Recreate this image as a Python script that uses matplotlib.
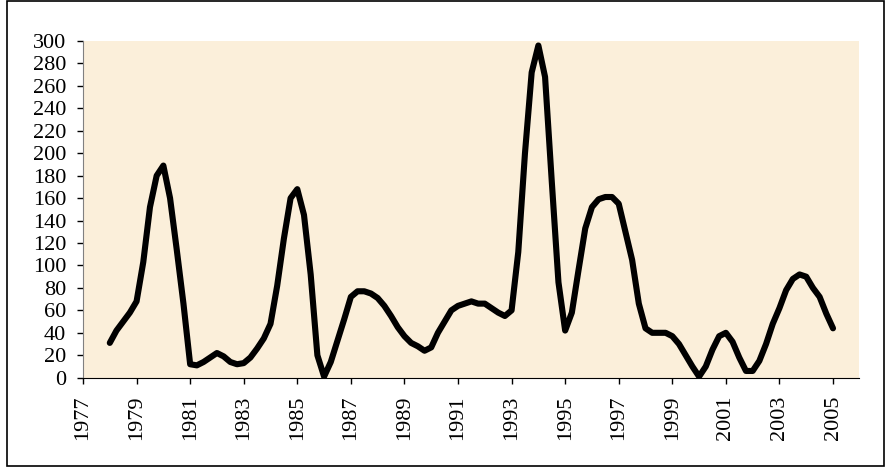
import numpy as np
import matplotlib
matplotlib.use('Agg')
import matplotlib.pyplot as plt
from matplotlib.patches import Rectangle

# quarterly series, 1978 Q1 through 2005 Q1
start_year = 1978
values = [
    31, 42, 50, 58,       # 1978
    68, 103, 152, 180,    # 1979
    189, 160, 114, 66,    # 1980
    12, 11, 14, 18,       # 1981
    22, 19, 14, 12,       # 1982
    13, 18, 26, 35,       # 1983
    48, 82, 124, 160,     # 1984
    168, 145, 92, 20,     # 1985
    1, 14, 33, 52,        # 1986
    72, 77, 77, 75,       # 1987
    71, 64, 55, 45,       # 1988
    37, 31, 28, 24,       # 1989
    27, 40, 50, 60,       # 1990
    64, 66, 68, 66,       # 1991
    66, 62, 58, 55,       # 1992
    60, 112, 200, 272,    # 1993
    296, 268, 175, 85,    # 1994
    42, 58, 96, 133,      # 1995
    152, 159, 161, 161,   # 1996
    155, 130, 105, 66,    # 1997
    44, 40, 40, 40,       # 1998
    37, 30, 20, 10,       # 1999
    1, 10, 25, 37,        # 2000
    40, 32, 18, 6,        # 2001
    6, 15, 30, 48,        # 2002
    62, 78, 88, 92,       # 2003
    90, 80, 72, 57,       # 2004
    44,                   # 2005
]
years = start_year + 0.25 * np.arange(len(values))

x_ticks = list(range(1977, 2006, 2))
y_ticks = list(range(0, 301, 20))

plt.rcParams['font.family'] = ['Liberation Serif', 'DejaVu Serif']

fig = plt.figure(figsize=(8.88, 4.68), dpi=100)
fig.patch.set_facecolor('white')

# outer chart frame
frame = Rectangle((7 / 888, 2 / 468), 877 / 888, 465 / 468, transform=fig.transFigure,
                  fill=False, edgecolor='black', linewidth=1.2)
fig.patches.append(frame)

ax = fig.add_axes([83 / 888, 1 - 377.7 / 468, 776 / 888, 336.7 / 468])
ax.set_facecolor('#fbefda')

ax.plot(years, values, color='black', linewidth=4.4,
        solid_capstyle='round', solid_joinstyle='round')

ax.set_xlim(1977, 2005.97)
ax.set_ylim(0, 300)
ax.set_xticks(x_ticks)
ax.set_xticklabels([str(y) for y in x_ticks], rotation=90, fontsize=16)
ax.set_yticks(y_ticks)
ax.set_yticklabels([str(v) for v in y_ticks], fontsize=16)

ax.spines[['top', 'right']].set_visible(False)
ax.spines['left'].set_color('#808080')
ax.spines['bottom'].set_color('black')
ax.tick_params(axis='both', direction='out', length=4, width=1, colors='black')
ax.tick_params(axis='x', pad=9)
ax.tick_params(axis='y', pad=8)

fig.savefig('out.png', dpi=100, facecolor='white')
